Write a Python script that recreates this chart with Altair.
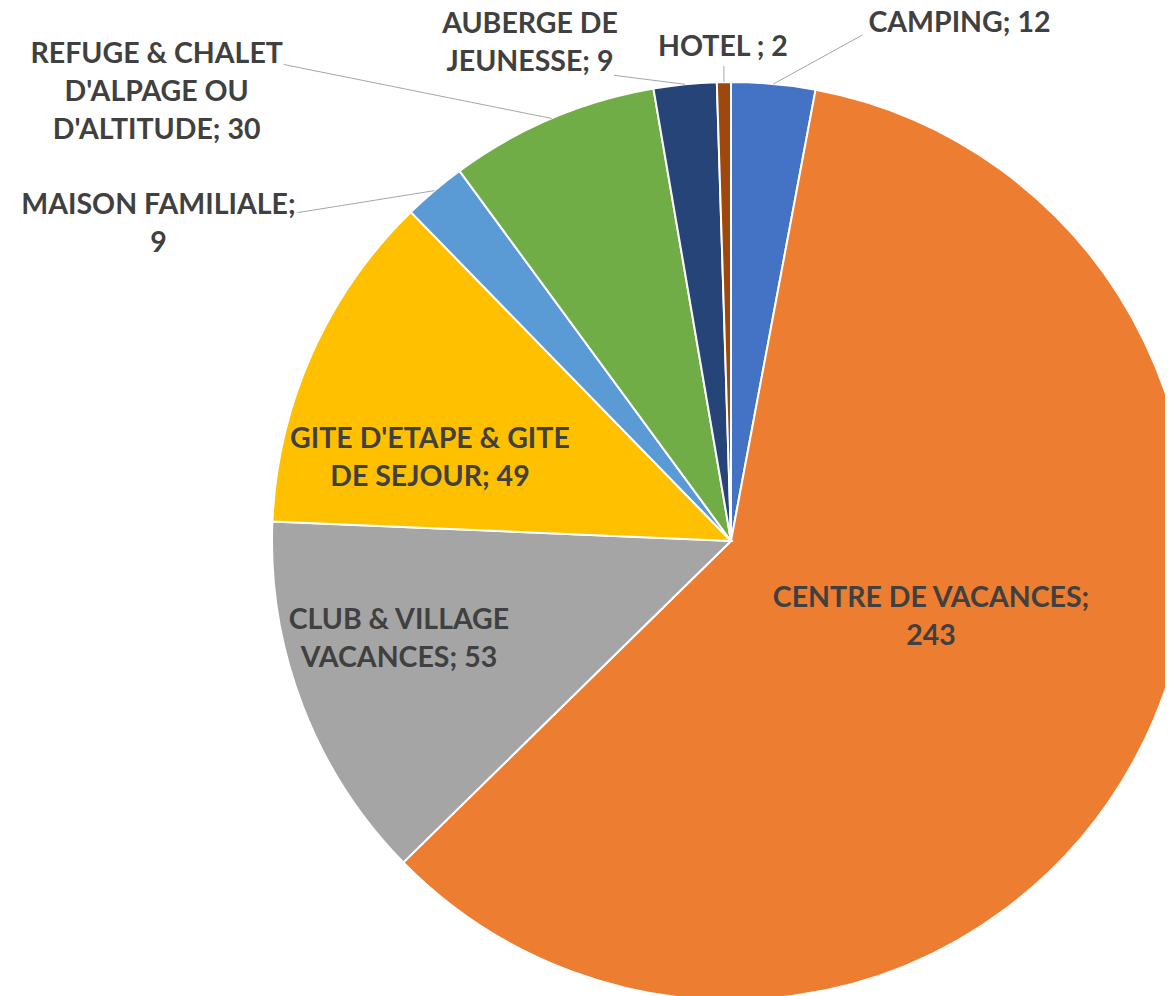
import math
import altair as alt
import pandas as pd

# ---------------- data ----------------
CATEGORIES = [
    "CAMPING",
    "CENTRE DE VACANCES",
    "CLUB & VILLAGE VACANCES",
    "GITE D'ETAPE & GITE DE SEJOUR",
    "MAISON FAMILIALE",
    "REFUGE & CHALET D'ALPAGE OU D'ALTITUDE",
    "AUBERGE DE JEUNESSE",
    "HOTEL",
]
VALUES = [12, 243, 53, 49, 9, 30, 9, 2]
LABEL_TEMPLATES = [
    "CAMPING; {v}",
    "CENTRE DE VACANCES;\n{v}",
    "CLUB & VILLAGE\nVACANCES; {v}",
    "GITE D'ETAPE & GITE\nDE SEJOUR; {v}",
    "MAISON FAMILIALE;\n{v}",
    "REFUGE & CHALET\nD'ALPAGE OU\nD'ALTITUDE; {v}",
    "AUBERGE DE\nJEUNESSE; {v}",
    "HOTEL ; {v}",
]
COLORS = ["#4472C4", "#ED7D31", "#A5A5A5", "#FFC000",
          "#5B9BD5", "#70AD47", "#264478", "#9E480E"]

# ---------------- style / layout ----------------
W, H = 1157, 988
CX, CY = 723, 533          # pie centre (chart coords)
R = 459                    # pie radius
FONT = "Lato"
FS = 28.5
LH = 38
TXT = "#404040"
LEADER = "#A6A6A6"

# label placement: (radius, dx, dy) of the label block centre,
# relative to the slice's mid-angle
LABEL_PLACE = {
    "CAMPING": (R, 186, -61),
    "CENTRE DE VACANCES": (212, 13, -24),
    "CLUB & VILLAGE VACANCES": (345, -10, -26),
    "GITE D'ETAPE & GITE DE SEJOUR": (309, -19, 43),
    "MAISON FAMILIALE": (R, -276, 33),
    "REFUGE & CHALET D'ALPAGE OU D'ALTITUDE": (R, -395, -26),
    "AUBERGE DE JEUNESSE": (R, -155, -41),
    "HOTEL": (R, -1, -35),
}
# leader lines: offset of the label end from the slice rim point
LEADERS = {
    "CAMPING": (89, -49),
    "MAISON FAMILIALE": (-137, 22),
    "REFUGE & CHALET D'ALPAGE OU D'ALTITUDE": (-268, -54),
    "AUBERGE DE JEUNESSE": (-71, -9),
    "HOTEL": (0, -16),
}

TOTAL = sum(VALUES)

df = pd.DataFrame({
    "cat": CATEGORIES,
    "value": VALUES,
    "order": list(range(len(CATEGORIES))),
    "label": [t.format(v=v) for t, v in zip(LABEL_TEMPLATES, VALUES)],
})
n_lines = {c: t.count("\n") + 1 for c, t in zip(CATEGORIES, LABEL_TEMPLATES)}

theta_scale = alt.Scale(domain=[0, TOTAL], range=[0, 2 * math.pi])

base = alt.Chart(df).transform_window(
    cum="sum(value)", sort=[alt.SortField("order")], frame=[None, 0]
).transform_calculate(
    mid="datum.cum - datum.value / 2"
)

arcs = alt.Chart(df).mark_arc(radius=R, stroke="white", strokeWidth=2).encode(
    theta=alt.Theta("value:Q", stack=True, scale=theta_scale),
    order=alt.Order("order:O"),
    color=alt.Color("cat:N", scale=alt.Scale(domain=CATEGORIES, range=COLORS), legend=None),
    x=alt.value(CX),
    y=alt.value(CY),
)

layers = [arcs]

for cat, (ox, oy) in LEADERS.items():
    rule = base.transform_filter(alt.datum.cat == cat).transform_calculate(
        ang=f"2 * PI * datum.mid / {TOTAL}"
    ).transform_calculate(
        rx=f"{CX} + {R} * sin(datum.ang)",
        ry=f"{CY} - {R} * cos(datum.ang)",
    ).transform_calculate(
        lx=f"datum.rx + ({ox})",
        ly=f"datum.ry + ({oy})",
    ).mark_rule(color=LEADER, strokeWidth=1).encode(
        x=alt.X("rx:Q", scale=None, axis=None),
        y=alt.Y("ry:Q", scale=None, axis=None),
        x2="lx:Q",
        y2="ly:Q",
    )
    layers.append(rule)

for cat, (r, dx, dy) in LABEL_PLACE.items():
    # Vega puts the first line at the anchor: shift so the block is centred
    dy_first = dy - (n_lines[cat] - 1) * LH / 2
    txt = base.transform_filter(alt.datum.cat == cat).mark_text(
        radius=r, dx=dx, dy=dy_first, align="center", baseline="middle",
        lineBreak="\n", lineHeight=LH, font=FONT, fontSize=FS,
        fontWeight="bold", color=TXT,
    ).encode(
        theta=alt.Theta("mid:Q", stack=None, scale=theta_scale),
        text="label:N",
        x=alt.value(CX),
        y=alt.value(CY),
    )
    layers.append(txt)

chart = alt.layer(*layers).properties(
    width=W, height=H, autosize=alt.AutoSizeParams(type="none"), padding=0,
    background="white",
).configure_view(stroke=None)

chart.save("out.html", embed_options={"renderer": "svg", "actions": False})
